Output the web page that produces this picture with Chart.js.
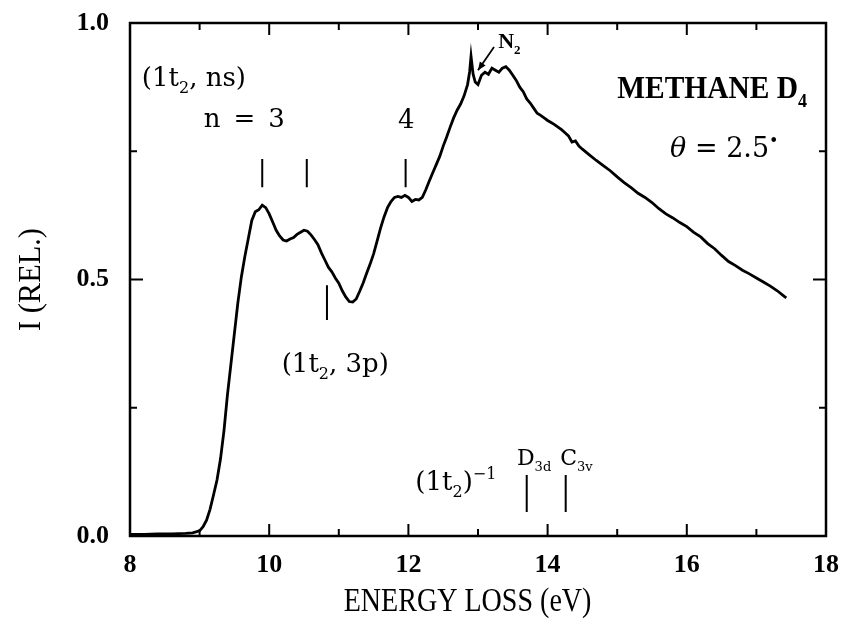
<!DOCTYPE html>
<html>
<head>
<meta charset="utf-8">
<script src="https://cdn.jsdelivr.net/npm/chart.js@4.4.0/dist/chart.umd.min.js"></script>
<style>
  html, body { margin: 0; padding: 0; background: #fff; }
  #wrap { width: 841px; height: 621px; }
</style>
</head>
<body>
<div id="wrap"><canvas id="spectrum"></canvas></div>
<script>
// Energy loss spectrum of methane D4
const energyEv = [
  8.0, 8.2, 8.4, 8.6, 8.8, 8.9, 9.0, 9.05, 9.1, 9.15, 9.2, 9.25, 9.3, 9.35, 9.4, 9.45,
  9.5, 9.55, 9.6, 9.65, 9.7, 9.75, 9.8, 9.85, 9.9, 9.95, 10.0, 10.05, 10.1, 10.15, 10.2,
  10.25, 10.3, 10.35, 10.4, 10.45, 10.5, 10.55, 10.6, 10.65, 10.7, 10.75, 10.8, 10.85,
  10.9, 10.95, 11.0, 11.05, 11.1, 11.15, 11.2, 11.25, 11.3, 11.35, 11.4, 11.45, 11.5,
  11.55, 11.6, 11.65, 11.7, 11.75, 11.8, 11.85, 11.9, 11.95, 12.0, 12.05, 12.1, 12.15,
  12.2, 12.25, 12.3, 12.35, 12.4, 12.45, 12.5, 12.55, 12.6, 12.65, 12.7, 12.75, 12.8,
  12.85, 12.88, 12.9, 12.93, 12.96, 13.0, 13.05, 13.1, 13.15, 13.2, 13.25, 13.3, 13.35,
  13.4, 13.45, 13.5, 13.55, 13.6, 13.65, 13.7, 13.75, 13.8, 13.85, 13.9, 13.95, 14.0,
  14.05, 14.1, 14.15, 14.2, 14.25, 14.3, 14.35, 14.4, 14.45, 14.5, 14.6, 14.7, 14.8,
  14.9, 15.0, 15.1, 15.2, 15.3, 15.4, 15.5, 15.6, 15.7, 15.8, 15.9, 16.0, 16.1, 16.2,
  16.3, 16.4, 16.5, 16.6, 16.7, 16.8, 16.9, 17.0, 17.1, 17.2, 17.3, 17.4, 17.43
];
const intensity = [
  0.003, 0.003, 0.004, 0.004, 0.005, 0.006, 0.010, 0.018, 0.031, 0.052, 0.080, 0.109, 0.150, 0.205, 0.275, 0.335,
  0.395, 0.455, 0.505, 0.545, 0.580, 0.615, 0.632, 0.636, 0.645, 0.640, 0.628, 0.612, 0.596, 0.585, 0.577,
  0.575, 0.579, 0.582, 0.588, 0.592, 0.596, 0.594, 0.587, 0.578, 0.568, 0.552, 0.538, 0.524,
  0.515, 0.503, 0.493, 0.478, 0.466, 0.457, 0.456, 0.462, 0.477, 0.493, 0.512, 0.530, 0.550,
  0.575, 0.600, 0.622, 0.640, 0.652, 0.660, 0.662, 0.660, 0.664, 0.660, 0.652, 0.656, 0.655,
  0.660, 0.675, 0.692, 0.708, 0.724, 0.740, 0.760, 0.778, 0.797, 0.815, 0.830, 0.842, 0.858,
  0.880, 0.905, 0.935, 0.900, 0.885, 0.880, 0.898, 0.904, 0.900, 0.912, 0.908, 0.904, 0.912,
  0.915, 0.908, 0.898, 0.888, 0.875, 0.866, 0.852, 0.844, 0.834, 0.824, 0.820, 0.815, 0.810,
  0.806, 0.802, 0.797, 0.792, 0.786, 0.780, 0.768, 0.770, 0.760, 0.754, 0.743, 0.732, 0.722,
  0.712, 0.700, 0.689, 0.679, 0.668, 0.660, 0.650, 0.638, 0.628, 0.620, 0.611, 0.603, 0.592, 0.583,
  0.570, 0.560, 0.547, 0.535, 0.527, 0.518, 0.511, 0.503, 0.495, 0.487, 0.478, 0.467, 0.464
];

const xMajorTicks = [8, 10, 12, 14, 16, 18];
const xMinorTicks = [9, 11, 13, 15, 17];
const yMajorTicks = [0, 0.5, 1.0];
const yMinorTicks = [0.25, 0.75];

// assignment markers: energy, and the intensity span of the short bar
const markerEnergy = [9.90, 10.54, 11.96, 10.83, 13.70, 14.26];
const markerLow = [0.68, 0.68, 0.68, 0.421, 0.047, 0.047];
const markerHigh = [0.735, 0.735, 0.735, 0.489, 0.119, 0.119];

const CENTURY = "'DejaVu Serif', serif";
const TIMES = "'Liberation Serif', 'Times New Roman', serif";

// labels in data coordinates (x = eV, y = intensity at the baseline)
const annotations = [
  { x: 8.17, y: 0.877, size: 26, family: CENTURY, runs: [["(1t"], ["2", "sub"], [", ns)"]] },
  { x: 9.06, y: 0.797, size: 26, family: CENTURY, runs: [["n\u2002=\u20023"]] },
  { x: 11.97, y: 0.795, size: 26, family: CENTURY, align: "center", runs: [["4"]] },
  { x: 10.18, y: 0.320, size: 26, family: CENTURY, runs: [["(1t"], ["2", "sub"], [", 3p)"]] },
  { x: 12.10, y: 0.090, size: 26, family: CENTURY, runs: [["(1t"], ["2", "sub"], [")"], ["\u22121", "sup"]] },
  { x: 13.56, y: 0.138, size: 22, family: CENTURY, runs: [["D"], ["3d", "sub"]] },
  { x: 14.18, y: 0.138, size: 22, family: CENTURY, runs: [["C"], ["3v", "sub"]] },
  { x: 13.29, y: 0.951, size: 22, family: TIMES, bold: true, runs: [["N"], ["2", "sub"]] },
  { x: 15.0, y: 0.853, size: 31, family: TIMES, bold: true, sx: 0.95, runs: [["METHANE D"], ["4", "sub"]] },
  { x: 15.76, y: 0.739, size: 27, family: CENTURY, runs: [["\u03B8", "it"], [" = 2.5"], ["\u2022", "sup"]] }
];

function drawRuns(ctx, px, py, item) {
  const size = item.size;
  const fontFor = (s, italic) =>
    (italic ? "italic " : "") + (item.bold ? "bold " : "") + s + "px " + item.family;
  let total = 0;
  const parts = item.runs.map(([text, kind]) => {
    const small = kind === "sub" || kind === "sup";
    const font = fontFor(small ? Math.round(size * 0.6) : size, kind === "it");
    ctx.font = font;
    const width = ctx.measureText(text).width;
    const dy = kind === "sub" ? size * 0.28 : kind === "sup" ? -size * 0.42 : 0;
    total += width;
    return { text, font, width, dy };
  });
  ctx.save();
  ctx.translate(px, py);
  ctx.scale(item.sx || 1, 1);
  let cx = item.align === "center" ? -total / 2 : 0;
  ctx.fillStyle = "#000";
  ctx.textBaseline = "alphabetic";
  ctx.textAlign = "left";
  for (const p of parts) {
    ctx.font = p.font;
    ctx.fillText(p.text, cx, p.dy);
    cx += p.width;
  }
  ctx.restore();
}

// frame with inward ticks on all four sides, markers, labels, axis titles
const figurePlugin = {
  id: "figure",
  afterDraw(chart) {
    const { ctx, chartArea: a, scales } = chart;
    const xs = scales.x, ys = scales.y;
    ctx.save();
    ctx.strokeStyle = "#000";
    ctx.lineWidth = 2.5;
    ctx.strokeRect(a.left, a.top, a.right - a.left, a.bottom - a.top);

    ctx.lineWidth = 2;
    ctx.beginPath();
    const xTick = (v, len) => {
      const px = xs.getPixelForValue(v);
      ctx.moveTo(px, a.bottom); ctx.lineTo(px, a.bottom - len);
      ctx.moveTo(px, a.top); ctx.lineTo(px, a.top + len);
    };
    const yTick = (v, len) => {
      const py = ys.getPixelForValue(v);
      ctx.moveTo(a.left, py); ctx.lineTo(a.left + len, py);
      ctx.moveTo(a.right, py); ctx.lineTo(a.right - len, py);
    };
    xMajorTicks.forEach(v => xTick(v, 12));
    xMinorTicks.forEach(v => xTick(v, 7));
    yMajorTicks.forEach(v => yTick(v, 13));
    yMinorTicks.forEach(v => yTick(v, 7));
    ctx.stroke();

    // assignment markers
    ctx.lineWidth = 2;
    ctx.beginPath();
    markerEnergy.forEach((e, i) => {
      const px = xs.getPixelForValue(e);
      ctx.moveTo(px, ys.getPixelForValue(markerLow[i]));
      ctx.lineTo(px, ys.getPixelForValue(markerHigh[i]));
    });
    ctx.stroke();

    // arrow from the N2 label to the sharp spike
    const ax0 = xs.getPixelForValue(13.23), ay0 = ys.getPixelForValue(0.953);
    const ax1 = xs.getPixelForValue(13.0), ay1 = ys.getPixelForValue(0.908);
    const ang = Math.atan2(ay1 - ay0, ax1 - ax0);
    ctx.lineWidth = 1.8;
    ctx.beginPath();
    ctx.moveTo(ax0, ay0);
    ctx.lineTo(ax1, ay1);
    ctx.stroke();
    ctx.beginPath();
    ctx.moveTo(ax1, ay1);
    ctx.lineTo(ax1 - 9 * Math.cos(ang - 0.4), ay1 - 9 * Math.sin(ang - 0.4));
    ctx.lineTo(ax1 - 9 * Math.cos(ang + 0.4), ay1 - 9 * Math.sin(ang + 0.4));
    ctx.closePath();
    ctx.fillStyle = "#000";
    ctx.fill();

    annotations.forEach(item =>
      drawRuns(ctx, xs.getPixelForValue(item.x), ys.getPixelForValue(item.y), item));

    // axis titles (condensed like the original lettering)
    drawRuns(ctx, xs.getPixelForValue(12.85), a.bottom + 75,
      { size: 33, family: TIMES, sx: 0.85, align: "center", runs: [["ENERGY LOSS (eV)"]] });
    ctx.save();
    ctx.translate(40, ys.getPixelForValue(0.5));
    ctx.rotate(-Math.PI / 2);
    drawRuns(ctx, 0, 0,
      { size: 32, family: TIMES, sx: 0.95, align: "center", runs: [["I (REL.)"]] });
    ctx.restore();
    ctx.restore();
  }
};

const ctx = document.getElementById("spectrum");
new Chart(ctx, {
  type: "line",
  data: {
    datasets: [
      {
        data: energyEv.map((e, i) => ({ x: e, y: intensity[i] })),
        borderColor: "#000",
        borderWidth: 2.8,
        pointRadius: 0,
        tension: 0,
        fill: false,
      },
    ],
  },
  options: {
    responsive: true,
    maintainAspectRatio: false,
    animation: false,
    layout: { padding: { top: 23, right: 15, left: 0, bottom: 0 } },
    scales: {
      x: {
        type: "linear",
        min: 8,
        max: 18,
        grid: { display: false, drawTicks: false },
        border: { display: false },
        afterFit: (scale) => {
          scale.height = 85;
          scale.paddingLeft = 0;
          scale.paddingRight = 0;
        },
        afterBuildTicks: (scale) => { scale.ticks = xMajorTicks.map(v => ({ value: v })); },
        ticks: {
          padding: 14,
          color: "#000",
          font: { family: TIMES, size: 26, weight: "bold" },
          maxRotation: 0,
        },
      },
      y: {
        min: 0,
        max: 1,
        grid: { display: false, drawTicks: false },
        border: { display: false },
        afterFit: (scale) => {
          scale.width = 130;
          scale.paddingTop = 0;
          scale.paddingBottom = 0;
        },
        afterBuildTicks: (scale) => { scale.ticks = yMajorTicks.map(v => ({ value: v })); },
        ticks: {
          padding: 21,
          color: "#000",
          font: { family: TIMES, size: 26, weight: "bold" },
          callback: (v) => Number(v).toFixed(1),
        },
      },
    },
    plugins: {
      legend: { display: false },
      tooltip: { enabled: false },
    },
  },
  plugins: [figurePlugin],
});
</script>
</body>
</html>
